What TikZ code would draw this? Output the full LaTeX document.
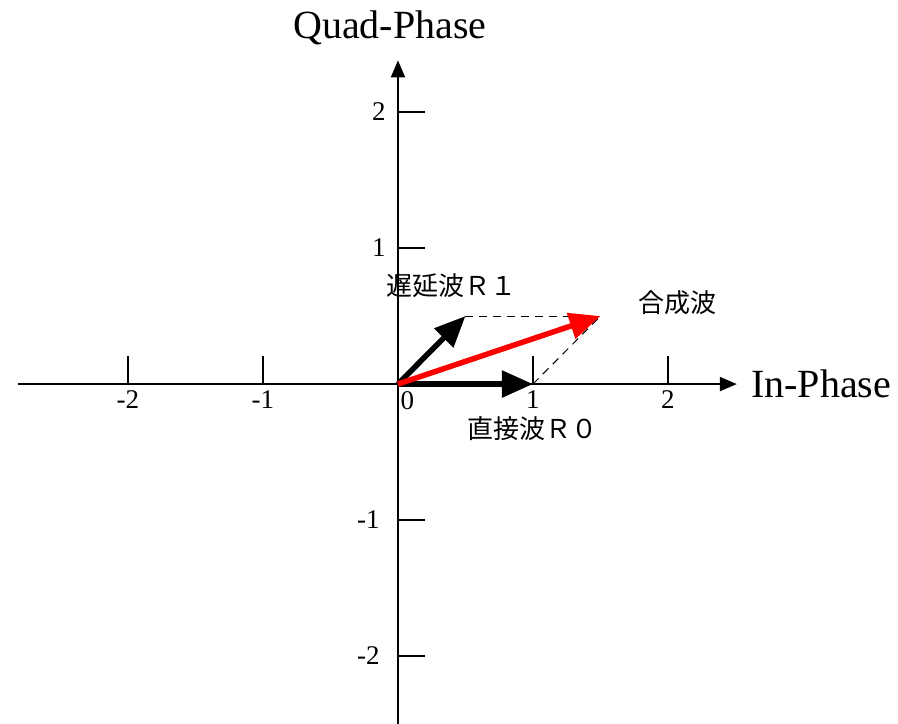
\documentclass[tikz,border=0pt]{standalone}
\usepackage{fontspec}
\setmainfont{Liberation Serif}
\newfontfamily\jpfont{Noto Sans CJK JP}
\usepackage{xcolor}
\usetikzlibrary{arrows.meta}
\definecolor{vecred}{HTML}{FF0000}

\begin{document}
\begin{tikzpicture}[
  x=135bp,y=136bp,
  axis/.style={line width=2bp,-{Triangle[length=17bp,width=14bp]}},
  tick/.style={line width=1.6bp},
  ticklbl/.style={font=\fontsize{27bp}{27bp}\selectfont,inner sep=0pt},
  vec/.style={line width=5.5bp,-{Triangle[length=31bp,width=26bp]}},
  guide/.style={line width=1bp,dash pattern=on 8bp off 6bp},
  wave/.style={font=\jpfont\fontsize{26bp}{28bp}\selectfont,inner sep=0pt},
  title/.style={font=\fontsize{40bp}{42bp}\selectfont,inner sep=0pt}
]
\useasboundingbox (-2.948,-2.493) rectangle (3.704,2.824);

% axes
\coordinate (O) at (0,0);
\coordinate (xmin) at (-2.815,0);
\coordinate (xmax) at (2.51,0);
\coordinate (ymin) at (0,-2.6);
\coordinate (ymax) at (0,2.38);
\draw[axis] (xmin) -- (xmax);
\draw[axis] (ymin) -- (ymax);
\node[title,anchor=west] (ilab) at (2.615,0) {In-Phase};
\node[title] (qlab) at (-0.06,2.618) {Quad-Phase};

% ticks
\foreach \i in {-2,-1,1,2}{
  \draw[tick] (\i,0) -- (\i,0.206);
  \draw[tick] (0,\i) -- (0.2,\i);
}
\foreach \i in {-2,-1,1,2}
  \node[ticklbl,anchor=north] (xt\i) at (\i,-0.05) {\i};
\node[ticklbl,anchor=north] (xt0) at (0.07,-0.05) {0};
\foreach \i in {1,2}
  \node[ticklbl,anchor=east] (yt\i) at (-0.09,\i) {\i};
\foreach \i in {-1,-2}
  \node[ticklbl,anchor=east] (yt\i) at (-0.135,\i) {\i};

% phasors
\coordinate (Rzero) at (1,0);
\coordinate (Rone) at (0.5,0.5);
\coordinate (Rsum) at (1.5,0.5);
\draw[guide] (Rone) -- (Rsum);
\draw[guide] (Rzero) -- (Rsum);
\draw[vec] (O) -- (Rzero);
\draw[vec] (O) -- (Rone);
\draw[vec,vecred] (O) -- (Rsum);

\node[wave] (r1lab) at (0.40,0.72) {遅延波Ｒ１};
\node[wave] (r0lab) at (1.0,-0.325) {直接波Ｒ０};
\node[wave] (slab) at (2.07,0.60) {合成波};
\end{tikzpicture}
\end{document}
